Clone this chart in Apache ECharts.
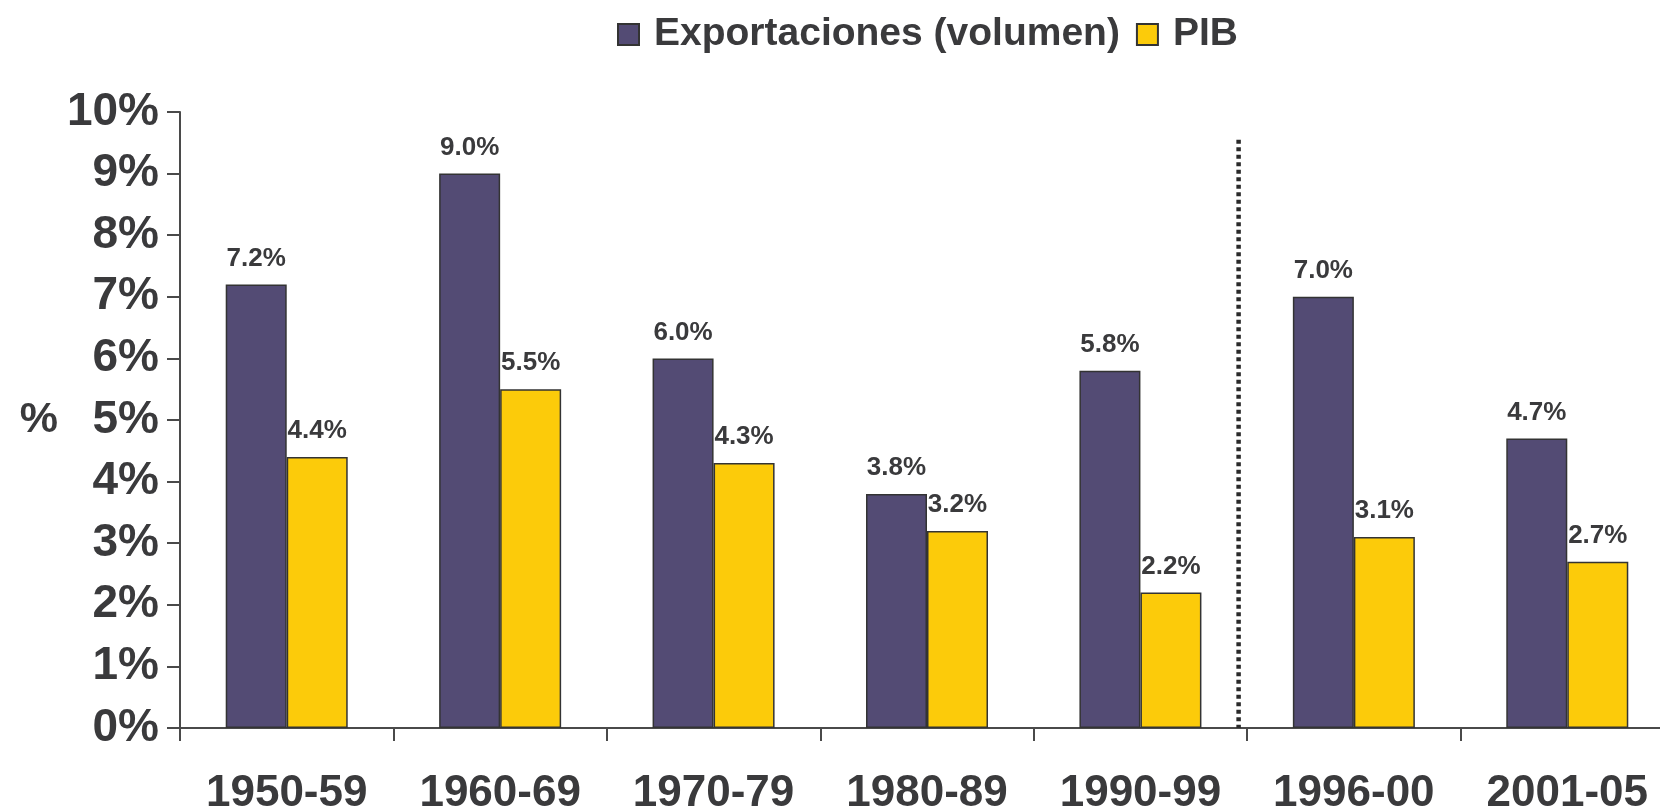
<!DOCTYPE html>
<html>
<head>
<meta charset="utf-8">
<script src="https://cdn.jsdelivr.net/npm/echarts@6/dist/echarts.min.js"></script>
<style>
html,body{margin:0;padding:0;background:#fff;}
#c{width:1660px;height:806px;}
</style>
</head>
<body>
<div id="c"></div>
<script>
const categories = ['1950-59','1960-69','1970-79','1980-89','1990-99','1996-00','2001-05'];
const exportaciones = [7.2, 9.0, 6.0, 3.8, 5.8, 7.0, 4.7];
const pib = [4.4, 5.5, 4.3, 3.2, 2.2, 3.1, 2.7];
const yTicks = [0,1,2,3,4,5,6,7,8,9,10];
const dividerAt = 4.96;   // just left of boundary between 1990-99 and 1996-00
const dividerTop = 9.55;  // top of dotted divider (in %)

const font = '"Liberation Sans", Arial, Helvetica, sans-serif';
const dark = '#3a3a3c';

const chart = echarts.init(document.getElementById('c'), null, {renderer:'canvas'});
chart.setOption({
  animation:false,
  backgroundColor:'#fff',
  legend:{
    data:['Exportaciones (volumen)','PIB'],
    top:10, left:612,
    itemWidth:21, itemHeight:21, itemGap:16,
    icon:'rect',
    textStyle:{fontFamily:font, fontWeight:'bold', fontSize:39, color:dark, padding:[0,0,0,10]}
  },
  grid:{left:180, width:1494, top:112, bottom:78, containLabel:false, outerBoundsMode:'none'},
  xAxis:[{
    type:'category',
    data:categories,
    axisLine:{lineStyle:{color:'#4a4a4a', width:2}},
    axisTick:{show:true, length:13, alignWithLabel:false, lineStyle:{color:'#4a4a4a', width:2}},
    axisLabel:{fontFamily:font, fontWeight:'bold', fontSize:44, color:dark, margin:44, interval:0}
  },{
    type:'value', min:0, max:7, show:false
  }],
  yAxis:{
    type:'value', min:0, max:10, interval:1,
    name:'%', nameLocation:'middle', nameGap:122, nameRotate:0,
    nameTextStyle:{fontFamily:font, fontWeight:'bold', fontSize:43, color:dark, padding:[6,0,0,0]},
    axisLine:{show:true, lineStyle:{color:'#4a4a4a', width:2}},
    axisTick:{show:true, length:13, lineStyle:{color:'#4a4a4a', width:2}},
    splitLine:{show:false},
    axisLabel:{fontFamily:font, fontWeight:'bold', fontSize:46, color:dark, margin:21,
      formatter:function(v){ return yTicks.indexOf(v)>=0 ? v+'%' : ''; }}
  },
  series:[{
    name:'Exportaciones (volumen)', type:'bar', data:exportaciones,
    barWidth:61, barGap:'0%',
    itemStyle:{color:'#534b74', borderColor:'#333', borderWidth:1.5},
    label:{show:true, position:'top', distance:13, fontFamily:font, fontWeight:'bold', fontSize:26, color:dark,
      formatter:function(p){ return p.value.toFixed(1)+'%'; }}
  },{
    name:'PIB', type:'bar', data:pib,
    barWidth:61, barGap:'0%',
    itemStyle:{color:'#fccb0a', borderColor:'#333', borderWidth:1.5},
    label:{show:true, position:'top', distance:13, fontFamily:font, fontWeight:'bold', fontSize:26, color:dark,
      formatter:function(p){ return p.value.toFixed(1)+'%'; }}
  },{
    name:'divider', type:'line', xAxisIndex:1,
    data:[[dividerAt, dividerTop],[dividerAt, 0]],
    symbol:'none', silent:true,
    lineStyle:{color:'#2a2a2a', width:4.5, type:[4,3.5], cap:'butt'}
  }]
});
</script>
</body>
</html>
